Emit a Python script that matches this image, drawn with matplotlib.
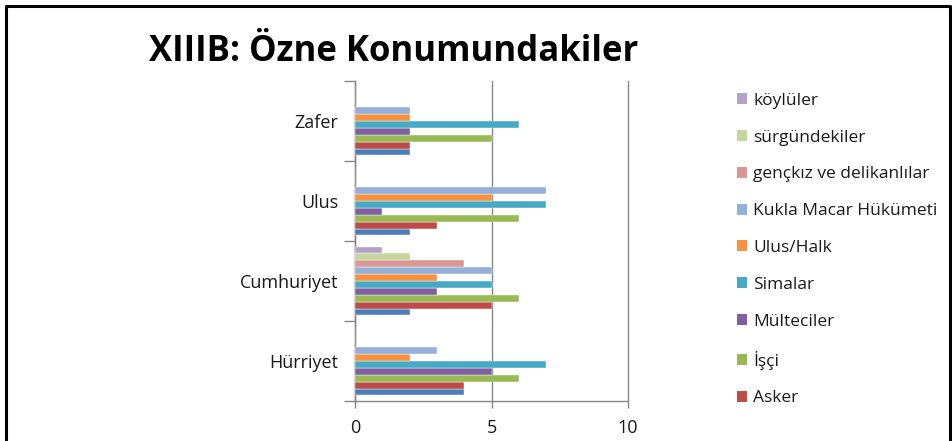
import matplotlib
matplotlib.use('Agg')
from matplotlib import pyplot as plt
from matplotlib.patches import Patch
import numpy as np

# data
categories = ['Hürriyet', 'Cumhuriyet', 'Ulus', 'Zafer']
series_names = ['', 'Asker', 'İşçi', 'Mülteciler', 'Simalar', 'Ulus/Halk',
                'Kukla Macar Hükümeti', 'gençkız ve delikanlılar', 'sürgündekiler', 'köylüler']
unnamed = [4, 2, 2, 2]
asker = [4, 5, 3, 2]
isci = [6, 6, 6, 5]
multeciler = [5, 3, 1, 2]
simalar = [7, 5, 7, 6]
ulus_halk = [2, 3, 5, 2]
kukla = [3, 5, 7, 2]
genckiz = [0, 4, 0, 0]
surgun = [0, 2, 0, 0]
koyluler = [0, 1, 0, 0]
values = [unnamed, asker, isci, multeciler, simalar, ulus_halk, kukla, genckiz, surgun, koyluler]
colors = ['#4A7EBB', '#BE4B48', '#98B954', '#7D60A0', '#46AAC5', '#F69240',
          '#94AFD8', '#D99694', '#C3D69B', '#B3A2C7']

W, H = 952, 441
fig = plt.figure(figsize=(W / 100, H / 100), dpi=100)
ax = fig.add_axes([355 / W, 1 - 401 / H, 273 / W, 320 / H])

font = 'Open Sans'
grey = '#868686'
txt = '#1a1a1a'

y = np.arange(len(categories))
h = 0.086
n = len(values)
for i, (vals, c) in enumerate(zip(values, colors)):
    off = -n * h / 2 + h * (i + 0.5)
    ax.barh(y + off, vals, height=h, color=c, edgecolor='white', linewidth=0.3, zorder=3)

ax.set_xlim(0, 10)
ax.set_ylim(-0.5, len(categories) - 0.5)
ax.set_xticks([0, 5, 10])
ax.set_xticklabels(['0', '5', '10'], fontfamily=font, fontsize=13, color=txt)
ax.set_yticks(y)
ax.set_yticklabels(categories, fontfamily=font, fontsize=13, color=txt)
ax.set_yticks(np.arange(len(categories) + 1) - 0.5, minor=True)
ax.tick_params(axis='y', which='major', length=0, pad=12)
ax.tick_params(axis='y', which='minor', length=8, color=grey, width=1)
ax.tick_params(axis='x', length=5, color=grey, width=1, pad=8)
ax.xaxis.grid(True, color=grey, linewidth=1, zorder=0)
for gl in ax.get_xgridlines():
    gl.set_clip_on(False)
for s in ['top', 'right']:
    ax.spines[s].set_visible(False)
for s in ['left', 'bottom']:
    ax.spines[s].set_color(grey)
    ax.spines[s].set_linewidth(1)

fig.text(394 / W, 1 - 52 / H, 'XIIIB: Özne Konumundakiler', ha='center', va='center',
         fontfamily='Open Sans', fontweight='bold', fontsize=25, color='black')

# legend (last entry is cut off in the original)
handles = [Patch(facecolor=colors[i], label=series_names[i]) for i in range(n - 1, 0, -1)]
fig.legend(handles=handles, loc='upper left', bbox_to_anchor=(728 / W, 1 - 84 / H),
           frameon=False, prop={'family': font, 'size': 12.5}, labelcolor=txt,
           handlelength=0.6, handleheight=0.6, handletextpad=0.35, labelspacing=1.2,
           borderpad=0)

# outer frame
fig.add_artist(plt.Line2D([6 / W, 6 / W, 950 / W, 950 / W], [0, 1 - 6 / H, 1 - 6 / H, 0],
                          transform=fig.transFigure, color='black', linewidth=2.2))

fig.savefig('out.png', dpi=100, facecolor='white')
